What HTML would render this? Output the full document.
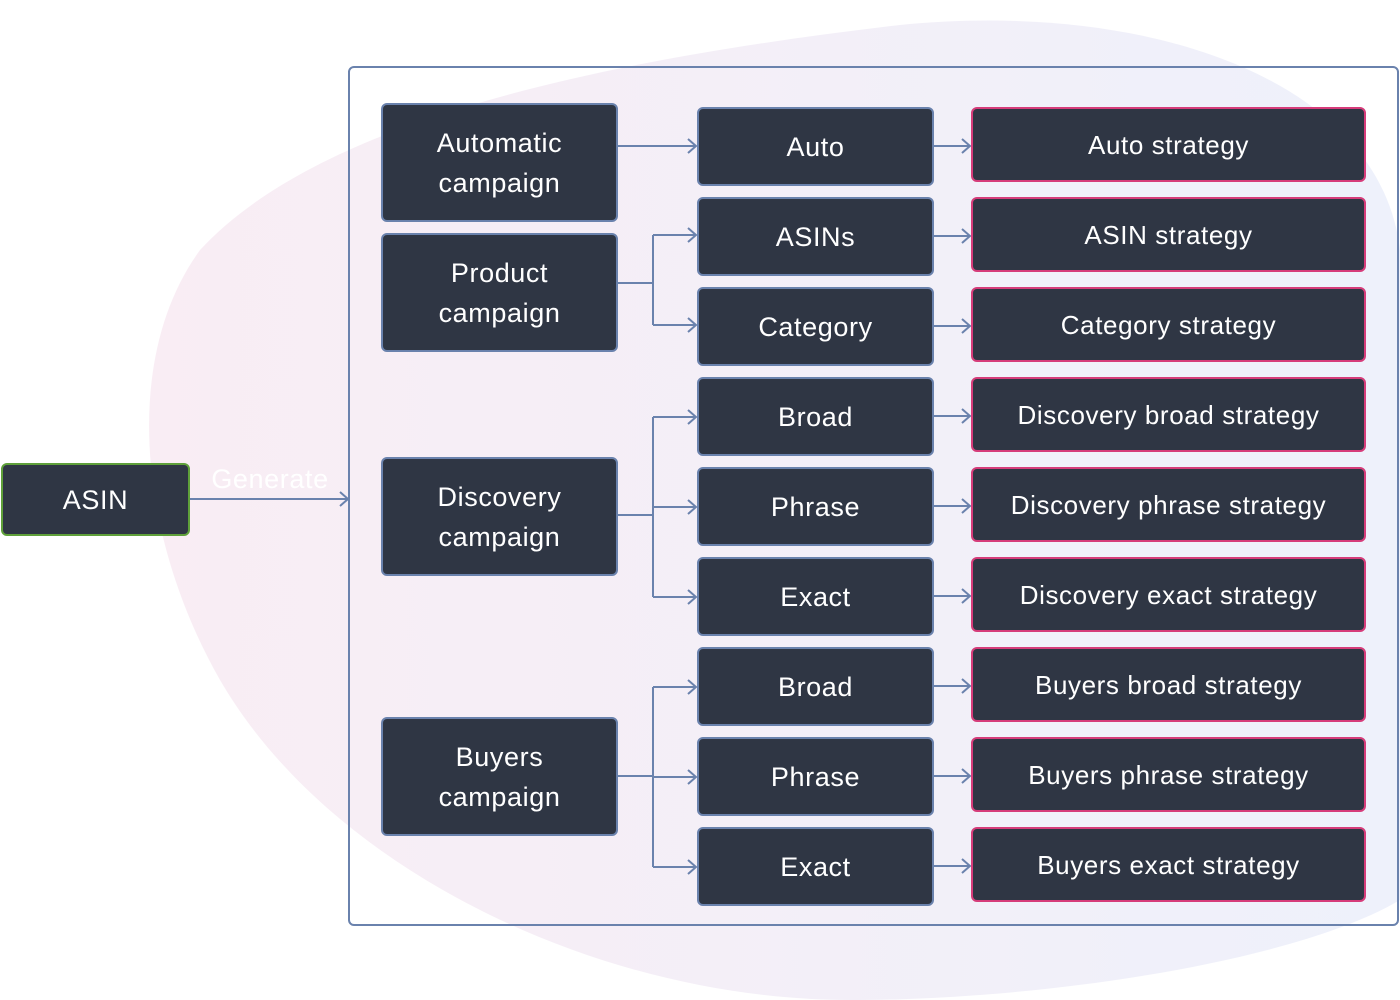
<!DOCTYPE html>
<html><head><meta charset="utf-8"><style>
body{margin:0;width:1400px;height:1000px;background:#fff;overflow:hidden;position:relative;font-family:"Liberation Sans",sans-serif}
.n{position:absolute;box-sizing:border-box;background:#2f3644;color:#fff;border:2px solid #6a82ad;border-radius:6px;display:flex;align-items:center;justify-content:center;text-align:center;font-size:27px;letter-spacing:0.6px;line-height:40px}
.c{left:381px;width:237px;height:119px}
.m{left:697px;width:237px;height:79px}
.r{left:971px;width:395px;height:75px;border-color:#d63c7a;font-size:26px}
svg{position:absolute;left:0;top:0}
</style></head><body>
<svg width="1400" height="1000">
<defs><linearGradient id="g" x1="0" y1="0" x2="1" y2="0"><stop offset="0" stop-color="#f9edf4"/><stop offset="1" stop-color="#eef1fb"/></linearGradient></defs>
<path d="M200,250 C320,120 600,60 900,25 C1150,0 1380,80 1400,250 L1400,900 C1300,960 1050,1000 850,1000 C600,1000 330,870 220,680 C140,540 120,360 200,250 Z" fill="url(#g)"/>
<rect x="349" y="67" width="1049" height="858" rx="5" fill="none" stroke="#6a82ad" stroke-width="2"/>
<g stroke="#6a82ad" stroke-width="2" fill="none">
<path d="M189,499 H348"/><path d="M340,492 l8,7 l-8,7"/>
<path d="M617,146 H696"/>
<path d="M617,283 H653 M653,235 V325 M653,235 H696 M653,325 H696"/>
<path d="M617,515 H653 M653,417 V597 M653,417 H696 M653,507 H696 M653,597 H696"/>
<path d="M617,776 H653 M653,687 V867 M653,687 H696 M653,777 H696 M653,867 H696"/>
<path d="M688,139 l8,7 l-8,7 M688,228 l8,7 l-8,7 M688,318 l8,7 l-8,7 M688,410 l8,7 l-8,7 M688,500 l8,7 l-8,7 M688,590 l8,7 l-8,7 M688,680 l8,7 l-8,7 M688,770 l8,7 l-8,7 M688,860 l8,7 l-8,7"/>
<path d="M933,146 H970 M933,236 H970 M933,326 H970 M933,416 H970 M933,506 H970 M933,596 H970 M933,686 H970 M933,776 H970 M933,866 H970"/>
<path d="M962,139 l8,7 l-8,7 M962,229 l8,7 l-8,7 M962,319 l8,7 l-8,7 M962,409 l8,7 l-8,7 M962,499 l8,7 l-8,7 M962,589 l8,7 l-8,7 M962,679 l8,7 l-8,7 M962,769 l8,7 l-8,7 M962,859 l8,7 l-8,7"/>
</g>
<text x="270" y="488" fill="#fff" font-size="27" letter-spacing="0.6" text-anchor="middle" font-family="Liberation Sans">Generate</text>
</svg>
<div class="n" style="left:1px;top:463px;width:189px;height:73px;border-color:#5fa03a">ASIN</div>
<div class="n c" style="top:103px">Automatic<br>campaign</div>
<div class="n c" style="top:233px">Product<br>campaign</div>
<div class="n c" style="top:457px">Discovery<br>campaign</div>
<div class="n c" style="top:717px">Buyers<br>campaign</div>
<div class="n m" style="top:107px">Auto</div>
<div class="n m" style="top:197px">ASINs</div>
<div class="n m" style="top:287px">Category</div>
<div class="n m" style="top:377px">Broad</div>
<div class="n m" style="top:467px">Phrase</div>
<div class="n m" style="top:557px">Exact</div>
<div class="n m" style="top:647px">Broad</div>
<div class="n m" style="top:737px">Phrase</div>
<div class="n m" style="top:827px">Exact</div>
<div class="n r" style="top:107px">Auto strategy</div>
<div class="n r" style="top:197px">ASIN strategy</div>
<div class="n r" style="top:287px">Category strategy</div>
<div class="n r" style="top:377px">Discovery broad strategy</div>
<div class="n r" style="top:467px">Discovery phrase strategy</div>
<div class="n r" style="top:557px">Discovery exact strategy</div>
<div class="n r" style="top:647px">Buyers broad strategy</div>
<div class="n r" style="top:737px">Buyers phrase strategy</div>
<div class="n r" style="top:827px">Buyers exact strategy</div>
</body></html>
